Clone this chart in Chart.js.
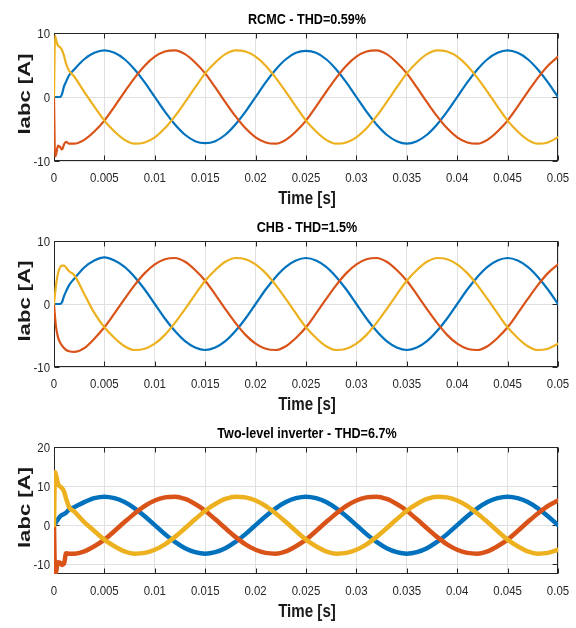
<!DOCTYPE html>
<html><head><meta charset="utf-8">
<script src="https://cdn.jsdelivr.net/npm/chart.js@4.4.1/dist/chart.umd.min.js"></script>
<style>
html,body{margin:0;padding:0;background:#fff;}
#wrap{position:relative;width:576px;height:628px;overflow:hidden;}
#wrap canvas{position:absolute;left:0;top:0;}
</style></head><body>
<div id="wrap">
<canvas id="c1" width="576" height="628"></canvas>
<canvas id="c2" width="576" height="628"></canvas>
<canvas id="c3" width="576" height="628"></canvas>
</div>
<script>
// ---------- data ----------
const time = [0,0.0001,0.0002,0.0004,0.0006,0.0008,0.001,0.0012,0.0015,
  0.002,0.003,0.004,0.005,0.006,0.007,0.008,0.009,0.010,0.011,0.012,0.013,0.014,0.015,0.016,0.017,0.018,0.019,
  0.020,0.021,0.022,0.023,0.024,0.025,0.026,0.027,0.028,0.029,0.030,0.031,0.032,0.033,0.034,0.035,0.036,0.037,0.038,0.039,
  0.040,0.041,0.042,0.043,0.044,0.045,0.046,0.047,0.048,0.049,0.050];

const xTickValues = [0,0.005,0.01,0.015,0.02,0.025,0.03,0.035,0.04,0.045,0.05];
const xTickLabels = ['0','0.005','0.01','0.015','0.02','0.025','0.03','0.035','0.04','0.045','0.05'];
const yTicksSmall = [-10,0,10];
const yTicksLarge = [-10,0,10,20];

const titles = ['RCMC - THD=0.59%','CHB - THD=1.5%','Two-level inverter - THD=6.7%'];
const xTitle = 'Time [s]';
const yTitle = 'Iabc [A]';

// RCMC
const rcmcA = [0,0,0,0,0,0.5,1.7,2.4,3.4,
  4.3,5.9,6.9,7.3,6.9,5.9,4.3,2.3,0,-2.3,-4.3,-5.9,-6.9,-7.2,-6.9,-5.9,-4.3,-2.3,
  0,2.3,4.3,5.9,6.9,7.2,6.9,5.9,4.3,2.3,0,-2.3,-4.3,-5.9,-6.9,-7.3,-6.9,-5.9,-4.3,-2.3,
  0,2.3,4.3,5.9,6.9,7.3,6.9,5.9,4.3,2.3,0];
const rcmcB = [0,-9.3,-9.0,-7.6,-7.8,-8.2,-7.4,-7.0,-7.3,
  -7.3,-6.7,-5.4,-3.7,-1.5,0.8,3.0,4.9,6.3,7.1,7.3,6.7,5.4,3.7,1.5,-0.8,-3.0,-4.9,
  -6.3,-7.1,-7.3,-6.7,-5.4,-3.7,-1.5,0.8,3.0,4.9,6.3,7.1,7.3,6.7,5.4,3.7,1.5,-0.8,-3.0,-4.9,
  -6.3,-7.1,-7.3,-6.7,-5.4,-3.7,-1.5,0.8,3.0,4.9,6.3];
const rcmcC = [0,9.6,9.0,8.0,7.8,7.3,6.4,5.2,4.1,
  3.2,0.8,-1.5,-3.7,-5.4,-6.7,-7.3,-7.1,-6.3,-4.9,-3.0,-0.8,1.5,3.7,5.4,6.7,7.3,7.1,
  6.3,4.9,3.0,0.8,-1.5,-3.7,-5.4,-6.7,-7.3,-7.1,-6.3,-4.9,-3.0,-0.8,1.5,3.7,5.4,6.7,7.3,7.1,
  6.3,4.9,3.0,0.8,-1.5,-3.7,-5.4,-6.7,-7.3,-7.1,-6.3];

// CHB
const chbA = [0,0,0,0,0,0.3,1.3,2.0,3.0,
  4.0,5.8,6.9,7.4,6.9,5.9,4.3,2.3,0,-2.3,-4.3,-5.9,-6.9,-7.3,-6.9,-5.9,-4.3,-2.3,
  0,2.3,4.3,5.9,6.9,7.3,6.9,5.9,4.3,2.3,0,-2.3,-4.3,-5.9,-6.9,-7.3,-6.9,-5.9,-4.3,-2.3,
  0,2.3,4.3,5.9,6.9,7.3,6.9,5.9,4.3,2.3,0];
const chbB = [0,-2.0,-3.6,-5.3,-6.1,-6.6,-7.0,-7.3,-7.5,
  -7.6,-7.0,-5.5,-3.7,-1.5,0.8,3.0,4.9,6.3,7.1,7.3,6.7,5.4,3.7,1.5,-0.8,-3.0,-4.9,
  -6.3,-7.1,-7.3,-6.7,-5.4,-3.7,-1.5,0.8,3.0,4.9,6.3,7.1,7.3,6.7,5.4,3.7,1.5,-0.8,-3.0,-4.9,
  -6.3,-7.1,-7.3,-6.7,-5.4,-3.7,-1.5,0.8,3.0,4.9,6.3];
const chbC = [0,1.6,3.0,4.9,5.8,6.1,6.1,5.8,5.2,
  4.6,1.6,-1.4,-3.7,-5.4,-6.7,-7.3,-7.1,-6.3,-4.9,-3.0,-0.8,1.5,3.7,5.4,6.7,7.3,7.1,
  6.3,4.9,3.0,0.8,-1.5,-3.7,-5.4,-6.7,-7.3,-7.1,-6.3,-4.9,-3.0,-0.8,1.5,3.7,5.4,6.7,7.3,7.1,
  6.3,4.9,3.0,0.8,-1.5,-3.7,-5.4,-6.7,-7.3,-7.1,-6.3];

// Two-level inverter
const tliA = [0,0.3,0.8,1.5,2.2,2.6,2.9,3.2,4.0,
  4.6,5.9,6.9,7.3,6.9,5.9,4.3,2.3,0,-2.3,-4.3,-5.9,-6.9,-7.3,-6.9,-5.9,-4.3,-2.3,
  0,2.3,4.3,5.9,6.9,7.3,6.9,5.9,4.3,2.3,0,-2.3,-4.3,-5.9,-6.9,-7.3,-6.9,-5.9,-4.3,-2.3,
  0,2.3,4.3,5.9,6.9,7.3,6.9,5.9,4.3,2.3,0];
const tliB = [0,-12.3,-12.0,-9.5,-9.6,-10.2,-9.8,-7.2,-7.3,
  -7.3,-6.7,-5.4,-3.7,-1.5,0.8,3.0,4.9,6.3,7.1,7.3,6.7,5.4,3.7,1.5,-0.8,-3.0,-4.9,
  -6.3,-7.1,-7.3,-6.7,-5.4,-3.7,-1.5,0.8,3.0,4.9,6.3,7.1,7.3,6.7,5.4,3.7,1.5,-0.8,-3.0,-4.9,
  -6.3,-7.1,-7.3,-6.7,-5.4,-3.7,-1.5,0.8,3.0,4.9,6.3];
const tliC = [0,13.6,12.8,10.6,9.9,9.5,8.6,6.8,4.6,
  3.5,0.8,-1.5,-3.7,-5.4,-6.7,-7.3,-7.1,-6.3,-4.9,-3.0,-0.8,1.5,3.7,5.4,6.7,7.3,7.1,
  6.3,4.9,3.0,0.8,-1.5,-3.7,-5.4,-6.7,-7.3,-7.1,-6.3,-4.9,-3.0,-0.8,1.5,3.7,5.4,6.7,7.3,7.1,
  6.3,4.9,3.0,0.8,-1.5,-3.7,-5.4,-6.7,-7.3,-7.1,-6.3];

// ---------- styling ----------
const COL_A = '#0072BD', COL_B = '#D95319', COL_C = '#EDB120';
const AXIS_COL = '#262626', GRID_COL = '#e0e0e0';
const FONT = "'Liberation Sans',Arial,Helvetica,sans-serif";
const SQUEEZE = 0.84; // horizontal condensing of the reference's lettering

function squeezedText(ctx, text, x, y, sx, align) {
  ctx.save();
  ctx.translate(x, y);
  ctx.scale(sx, 1);
  ctx.textAlign = align;
  ctx.fillText(text, 0, 0);
  ctx.restore();
}

const boxPlugin = {
  id: 'matbox',
  beforeDatasetsDraw(chart, args, opts) {
    const {ctx, chartArea: a, scales: {x, y}} = chart;
    ctx.save();
    ctx.strokeStyle = AXIS_COL; ctx.lineWidth = 1;
    const L = Math.round(a.left) + 0.5, R = Math.round(a.right) - 0.5;
    const T = Math.round(a.top) + 0.5, B = Math.round(a.bottom) - 0.5;
    ctx.strokeRect(L, T, R - L, B - T);
    ctx.beginPath();
    for (const v of xTickValues) {
      const px = Math.round(x.getPixelForValue(v)) + 0.5;
      ctx.moveTo(px, B); ctx.lineTo(px, B - 5);
      ctx.moveTo(px, T); ctx.lineTo(px, T + 5);
    }
    for (const v of opts.yTicks) {
      const py = Math.round(y.getPixelForValue(v)) + 0.5;
      ctx.moveTo(L, py); ctx.lineTo(L + 5, py);
      ctx.moveTo(R, py); ctx.lineTo(R - 5, py);
    }
    ctx.stroke();
    ctx.restore();
  },
  afterDraw(chart, args, opts) {
    const {ctx, chartArea: a, scales: {x, y}} = chart;
    const cx = (a.left + a.right) / 2;
    ctx.save();
    ctx.textBaseline = 'alphabetic';
    // tick labels (positions from the chart's scales)
    ctx.fillStyle = AXIS_COL;
    ctx.font = '13px ' + FONT;
    xTickValues.forEach((v, i) => {
      squeezedText(ctx, xTickLabels[i], x.getPixelForValue(v), a.bottom + 21, 0.88, 'center');
    });
    opts.yTicks.forEach(v => {
      squeezedText(ctx, String(v), a.left - 4, y.getPixelForValue(v) + 4.6, 0.88, 'right');
    });
    // title
    ctx.fillStyle = '#000';
    ctx.font = 'bold 15px ' + FONT;
    squeezedText(ctx, opts.title, cx + 1, a.top - 9, SQUEEZE, 'center');
    // x title
    ctx.fillStyle = '#1a1a1a';
    ctx.font = 'bold 18px ' + FONT;
    squeezedText(ctx, xTitle, cx + 1, a.bottom + 43, SQUEEZE, 'center');
    // y title (rotated)
    ctx.font = 'bold 17px ' + FONT;
    ctx.textAlign = 'center';
    ctx.translate(30, (a.top + a.bottom) / 2 - 3);
    ctx.rotate(-Math.PI / 2);
    ctx.scale(1.3, 1);
    ctx.fillText(yTitle, 0, 0);
    ctx.restore();
  }
};

function makeChart(id, A, B, C, opt) {
  const pts = arr => time.map((t, i) => ({x: t, y: arr[i]}));
  const ds = (arr, col, ord) => ({data: pts(arr), borderColor: col, backgroundColor: col,
    borderWidth: opt.lw, pointRadius: 0, fill: false, order: ord,
    cubicInterpolationMode: 'monotone', borderJoinStyle: 'round', borderCapStyle: 'round'});
  return new Chart(document.getElementById(id), {
    type: 'line',
    data: {datasets: [ds(C, COL_C, 0), ds(B, COL_B, 1), ds(A, COL_A, 2)]},
    options: {
      responsive: false, animation: false, devicePixelRatio: 1,
      layout: {padding: {left: 0, right: 18, top: opt.top, bottom: 628 - opt.bottom - 30}},
      plugins: {legend: {display: false}, tooltip: {enabled: false}, title: {display: false},
        matbox: {title: opt.title, yTicks: opt.yTicks}},
      scales: {
        x: {
          type: 'linear', min: 0, max: 0.05,
          afterFit: s => { s.height = 30; },
          afterBuildTicks: s => { s.ticks = xTickValues.map(v => ({value: v})); },
          ticks: {display: false},
          grid: {color: GRID_COL, drawTicks: false, lineWidth: 1},
          border: {display: false}
        },
        y: {
          type: 'linear', min: opt.ymin, max: opt.ymax,
          afterFit: s => { s.width = 54; },
          afterBuildTicks: s => { s.ticks = opt.yTicks.map(v => ({value: v})); },
          ticks: {display: false},
          grid: {color: GRID_COL, drawTicks: false, lineWidth: 1},
          border: {display: false}
        }
      }
    },
    plugins: [boxPlugin]
  });
}

makeChart('c1', rcmcA, rcmcB, rcmcC, {top: 33, bottom: 161, ymin: -10, ymax: 10, yTicks: yTicksSmall, title: titles[0], lw: 2.2});
makeChart('c2', chbA, chbB, chbC, {top: 241, bottom: 367, ymin: -10, ymax: 10, yTicks: yTicksSmall, title: titles[1], lw: 2.2});
makeChart('c3', tliA, tliB, tliC, {top: 447, bottom: 574, ymin: -12.5, ymax: 20, yTicks: yTicksLarge, title: titles[2], lw: 4.5});
</script>
</body></html>
